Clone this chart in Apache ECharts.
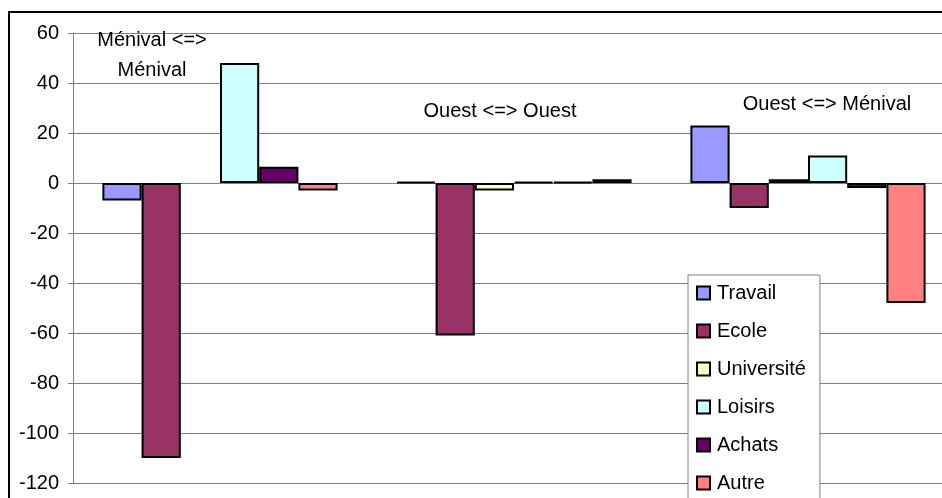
<!DOCTYPE html>
<html><head><meta charset="utf-8">
<script src="https://cdn.jsdelivr.net/npm/echarts@6/dist/echarts.min.js"></script>
<style>html,body{margin:0;padding:0;background:#fff}#c{width:942px;height:498px}</style>
</head><body><div id="c"></div>
<script>
const categories = ['Ménival <=>\nMénival', 'Ouest <=> Ouest', 'Ouest <=> Ménival'];
const seriesNames = ['Travail', 'Ecole', 'Université', 'Loisirs', 'Achats', 'Autre'];
const travail = [-7, 0.5, 23];
const ecole = [-110, -61, -10];
const universite = [0, -3, 1.5];
const loisirs = [48, 0.5, 11];
const achats = [6.5, 0.5, -2];
const autre = [-3, 1.5, -48];
const yMin = -120, yMax = 60, yStep = 20;

const values = [travail, ecole, universite, loisirs, achats, autre];
const colors = ['#9999FF', '#993366', '#FFFFCC', '#CCFFFF', '#660066', '#FF8080'];
const FONT = 'Liberation Sans, Arial, sans-serif';
const labelPos = [[152, 25], [500, 96], [827, 89]];

const chart = echarts.init(document.getElementById('c'), null, {renderer: 'canvas'});
chart.setOption({
  animation: false,
  backgroundColor: '#fff',
  textStyle: {fontFamily: FONT},
  grid: {left: 73, right: -13, top: 33, bottom: 15, containLabel: false, outerBoundsMode: 'none'},
  xAxis: {
    type: 'category', data: categories,
    axisLine: {show: false}, axisTick: {show: false}, axisLabel: {show: false},
    splitLine: {show: false}
  },
  yAxis: {
    type: 'value', min: yMin, max: yMax, interval: yStep,
    axisLine: {show: true, lineStyle: {color: '#808080', width: 1}},
    axisTick: {show: true, length: 5, lineStyle: {color: '#808080'}},
    axisLabel: {color: '#000', fontSize: 20, fontFamily: FONT, margin: 14},
    splitLine: {show: true, lineStyle: {color: '#808080', width: 1}}
  },
  legend: {
    orient: 'vertical', left: 688, top: 275, height: 300,
    backgroundColor: '#fff', borderColor: '#808080', borderWidth: 1,
    padding: [8, 14, 8, 8],
    itemWidth: 13, itemHeight: 13, itemGap: 18, icon: 'rect',
    textStyle: {fontSize: 20, color: '#000', fontFamily: FONT, lineHeight: 20, padding: [0, 0, 0, 2]},
    data: seriesNames,
    z: 10
  },
  graphic: [
    {type: 'rect', silent: true, z: -10, shape: {x: 9, y: 12, width: 1000, height: 1000},
     style: {fill: 'none', stroke: '#000', lineWidth: 2}}
  ].concat(categories.map((c, i) => ({
    type: 'text', silent: true, x: labelPos[i][0], y: labelPos[i][1], z: 5,
    style: {text: c, fontSize: 20, fontFamily: FONT, fill: '#000', align: 'center', verticalAlign: 'top', lineHeight: 30}
  }))),
  series: seriesNames.map((n, i) => ({
    name: n, type: 'bar',
    data: values[i].map(v => v === 0 ? {value: v, itemStyle: {borderWidth: 0}} : v),
    barGap: '0%', barCategoryGap: '20%',
    itemStyle: {color: colors[i], borderColor: '#000', borderWidth: 2}
  }))
});
</script>
</body></html>
